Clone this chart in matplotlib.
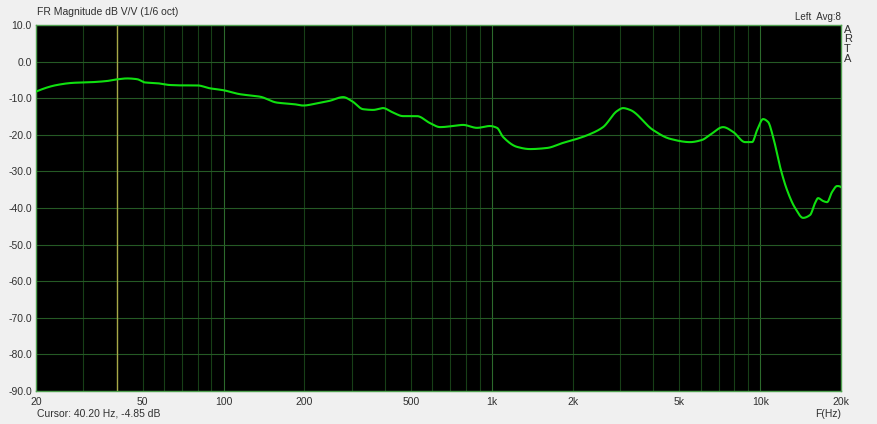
import numpy as np
import matplotlib
matplotlib.use("Agg")
import matplotlib.pyplot as plt

# frequency response
freq = [20, 23.9, 27.5, 32.6, 36.8, 40.1, 43.7, 47.6, 51.0, 56.5, 63.2, 70.6, 79.7, 89.0,
        99.5, 115, 137, 158, 182, 198, 223, 249, 279, 301, 331, 361, 393, 425, 467, 526,
        588, 641, 717, 781, 880, 984, 1045, 1101, 1241, 1387, 1605, 1842, 2076, 2322,
        2596, 2928, 3083, 3274, 3988, 4614, 5478, 6070, 6504, 7272, 7922, 8784, 9328,
        9738, 10250, 10700, 11170, 11860, 12590, 13490, 14450, 15340, 16020, 16430,
        17160, 17750, 18530, 19340, 20000]
mag_db = [-8.2, -6.4, -5.8, -5.6, -5.3, -4.85, -4.6, -4.8, -5.7, -5.9, -6.4, -6.5, -6.5, -7.3,
          -7.8, -8.9, -9.6, -11.2, -11.6, -12.0, -11.4, -10.7, -9.7, -10.8, -13.0, -13.2,
          -12.7, -13.8, -14.9, -14.9, -16.8, -17.9, -17.6, -17.3, -18.1, -17.6, -18.1,
          -20.6, -23.3, -23.9, -23.6, -22.2, -21.1, -19.8, -17.9, -13.5, -12.7, -13.2,
          -18.7, -21.1, -22.0, -21.4, -20.0, -17.9, -19.2, -22.0, -22.0, -18.7, -15.7,
          -16.5, -20.6, -28.8, -35.1, -40.0, -42.7, -41.9, -38.6, -37.3, -38.1, -38.4,
          -35.6, -34.0, -34.3]

x_ticks = [20, 50, 100, 200, 500, 1000, 2000, 5000, 10000, 20000]
x_labels = ["20", "50", "100", "200", "500", "1k", "2k", "5k", "10k", "20k"]
y_ticks = list(range(10, -100, -10))
cursor_f = 40.2

plt.rcParams['font.family'] = ['Liberation Sans', 'DejaVu Sans']
fs = 7.5
txt_col = "#303030"

fig = plt.figure(figsize=(8.77, 4.24), dpi=100, facecolor="#f0f0f0")
ax = fig.add_axes([36 / 877, 1 - 391 / 424, 805 / 877, 366 / 424])
ax.set_facecolor("black")
ax.set_xscale("log")
ax.set_xlim(20, 20000)
ax.set_ylim(-90, 10)

# grid: every 1-2-..-9 per decade, decades a bit brighter
grid_f = [m * 10 ** d for d in range(1, 5) for m in range(1, 10) if 20 <= m * 10 ** d <= 20000]
for g in grid_f:
    if g in (20, 20000):
        continue
    bright = np.isclose(np.log10(g) % 1, 0)
    ax.axvline(g, color="#2c6a2c" if bright else "#173f17", lw=0.8, zorder=1)
for yv in y_ticks[1:-1]:
    ax.axhline(yv, color="#255a25", lw=0.8, zorder=1)

ax.axvline(cursor_f, color="#a8a848", lw=1.0, zorder=2)

# smooth curve through the points in log-frequency
lf = np.log10(freq)
lf_fine = np.linspace(lf[0], lf[-1], 1500)
try:
    from scipy.interpolate import PchipInterpolator
    mag_fine = PchipInterpolator(lf, mag_db)(lf_fine)
except ImportError:
    mag_fine = np.interp(lf_fine, lf, mag_db)
ax.plot(10 ** lf_fine, mag_fine, color="#10e010", lw=1.5, zorder=3)

ax.set_xticks(x_ticks)
ax.set_xticklabels(x_labels)
ax.xaxis.set_minor_locator(matplotlib.ticker.NullLocator())
ax.set_yticks(y_ticks)
ax.set_yticklabels([f"{v:.1f}" for v in y_ticks])
ax.tick_params(length=0, labelsize=fs, colors=txt_col, pad=3)
ax.tick_params(axis="x", pad=4)
for s in ax.spines.values():
    s.set_color("#50a050")
    s.set_linewidth(1.0)

fig.text(37 / 877, 1 - 12 / 424, "FR Magnitude dB V/V (1/6 oct)", fontsize=fs, va="center", color=txt_col)
fig.text(841 / 877, 1 - 17 / 424, "Left  Avg:8", fontsize=fs - 0.5, ha="right", va="center", color=txt_col)
for i, ch in enumerate("ARTA"):
    fig.text(844 / 877, 1 - (30 + i * 9.5) / 424, ch, fontsize=fs + 0.5, va="center", color=txt_col)
fig.text(37 / 877, 1 - 414 / 424, "Cursor: 40.20 Hz, -4.85 dB", fontsize=fs, va="center", color=txt_col)
fig.text(841 / 877, 1 - 414 / 424, "F(Hz)", fontsize=fs, ha="right", va="center", color=txt_col)

fig.savefig("out.png", dpi=100, facecolor=fig.get_facecolor())
